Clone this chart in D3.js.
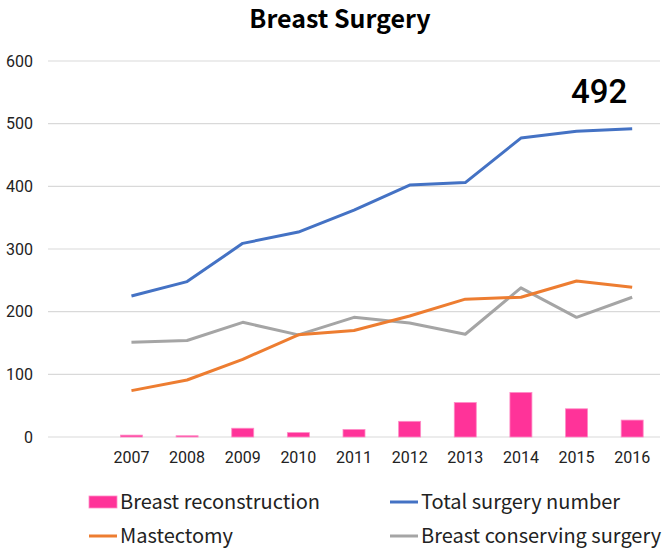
<!DOCTYPE html>
<html><head><meta charset="utf-8">
<script src="https://cdn.jsdelivr.net/npm/d3@7/dist/d3.min.js"></script>
<style>body{margin:0;background:#fff;} svg{display:block;font-family:"Noto Sans CJK JP","Noto Sans",sans-serif;}</style>
</head><body><svg id="c" width="670" height="560"></svg>
<script>
const years = ["2007","2008","2009","2010","2011","2012","2013","2014","2015","2016"];
const reconstruction = [3, 2, 14, 7, 12, 25, 55, 71, 45, 27];
const totalSurgery = [225, 248, 309, 327, 362, 402, 406, 477, 488, 492];
const mastectomy = [74, 91, 124, 163, 170, 193, 220, 223, 249, 239];
const conserving = [151, 154, 183, 163, 191, 182, 164, 238, 191, 223];
const yTicks = [0, 100, 200, 300, 400, 500, 600];
const title = "Breast Surgery";
const annotation = "492";

const svg = d3.select("#c");
const plotLeft = 48, plotRight = 660, plotTop = 61, plotBottom = 437;
const bw = (plotRight - plotLeft) / 11;
const x = d3.scaleBand().domain(years).range([plotLeft + bw, plotRight]);
const y = d3.scaleLinear().domain([0, 600]).range([plotBottom, plotTop]);

// gridlines
svg.append("g").selectAll("line").data(yTicks).join("line")
  .attr("x1", plotLeft).attr("x2", plotRight)
  .attr("y1", d => y(d)).attr("y2", d => y(d))
  .attr("stroke", "#d9d9d9").attr("stroke-width", 1.2);

// y axis labels
const yAxis = d3.axisLeft(y).tickValues(yTicks).tickSize(0).tickPadding(0);
const gy = svg.append("g").attr("transform", "translate(33,0)").call(yAxis);
gy.select(".domain").remove();
gy.selectAll("text").attr("font-size", 16).attr("fill", "#222").attr("font-family", "Roboto, sans-serif");

// x axis labels
const xAxis = d3.axisBottom(x).tickSize(0).tickPadding(0);
const gx = svg.append("g").attr("transform", "translate(0,452)").call(xAxis);
gx.select(".domain").remove();
gx.selectAll("text").attr("font-size", 16).attr("fill", "#222").attr("font-family", "Roboto, sans-serif");

// bars
const barW = 22;
svg.append("g").selectAll("rect").data(reconstruction).join("rect")
  .attr("x", (d, i) => x(years[i]) + x.bandwidth() / 2 - barW / 2)
  .attr("width", barW)
  .attr("y", d => y(d))
  .attr("height", d => y(0) - y(d))
  .attr("fill", "#FF3399").attr("stroke", "#FF8CC6").attr("stroke-width", 0.8);

const line = d3.line().x((d, i) => x(years[i]) + x.bandwidth() / 2).y(d => y(d));
const series = [
  {vals: conserving, color: "#A5A5A5"},
  {vals: mastectomy, color: "#ED7D31"},
  {vals: totalSurgery, color: "#4472C4"}
];
series.forEach(s => {
  svg.append("path").datum(s.vals).attr("d", line)
    .attr("fill", "none").attr("stroke", s.color).attr("stroke-width", 3)
    .attr("stroke-linejoin", "round");
});

// annotation
svg.append("text").attr("x", x("2016") + x.bandwidth() / 2 - 33).attr("y", 103)
  .attr("text-anchor", "middle").attr("font-size", 33).attr("font-weight", 500)
  .attr("font-family", "Roboto, sans-serif").attr("fill", "#000").text(annotation);

// title
svg.append("text").attr("x", 340).attr("y", 28).attr("text-anchor", "middle")
  .attr("font-size", 25).attr("font-weight", "bold").attr("fill", "#000").text(title);

// legend
const legend = [
  {name: "Breast reconstruction", type: "rect", color: "#FF3399", lx: 89, ly: 502},
  {name: "Total surgery number", type: "line", color: "#4472C4", lx: 390, ly: 502},
  {name: "Mastectomy", type: "line", color: "#ED7D31", lx: 89, ly: 536},
  {name: "Breast conserving surgery", type: "line", color: "#A5A5A5", lx: 390, ly: 536}
];
legend.forEach(l => {
  if (l.type === "rect") {
    svg.append("rect").attr("x", l.lx).attr("y", l.ly - 6).attr("width", 28).attr("height", 12)
      .attr("fill", l.color).attr("stroke", "#FF8CC6").attr("stroke-width", 0.8);
  } else {
    svg.append("line").attr("x1", l.lx).attr("x2", l.lx + 28).attr("y1", l.ly).attr("y2", l.ly)
      .attr("stroke", l.color).attr("stroke-width", 3);
  }
  svg.append("text").attr("x", l.lx + 31).attr("y", l.ly).attr("dy", "0.35em")
    .attr("font-size", 20).attr("fill", "#222").text(l.name);
});
</script></body></html>
